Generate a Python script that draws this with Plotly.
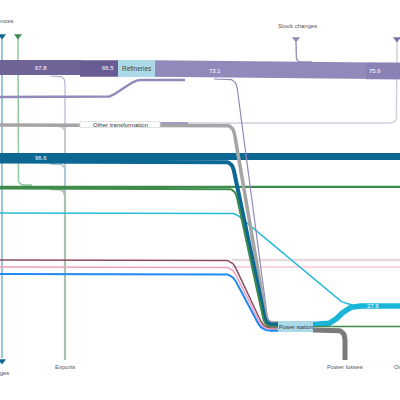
import numpy as np
import plotly.graph_objects as go

# ---------------- data ----------------
band_values = {"crude_in": 67.8, "crude_ref": 66.5, "products": 73.1,
               "oil_final": 75.6, "gas": 96.6, "electricity": 27.9}
node_names = ["Refineries", "Other transformation", "Power station"]
end_labels = ["Statistical differences", "Stock changes", "Stock changes",
              "Exports", "Power losses", "Own use"]

# ---------------- layout / style (pixel canvas 400x400) ----------------
FONT = "Liberation Sans, Arial, sans-serif"
PURPLE_D = "#6f6398"
PURPLE_D2 = "#695c94"
PURPLE_L = "#9189b9"
PURPLE_L2 = "#8a82b4"
BLUE_D = "#0c6792"
GREEN = "#3e8b4c"
GRAY = "#a5a5a5"
CYAN = "#1ab6da"
MAROON = "#8d4b60"
PINK = "#ee9fc0"
BLUE = "#1f8af0"
BOX = "#acd9e8"


def rounded(points, r):
    pts = [np.array(p, float) for p in points]
    xs, ys = [pts[0][0]], [pts[0][1]]
    for i in range(1, len(pts) - 1):
        p0, p1, p2 = pts[i - 1], pts[i], pts[i + 1]
        d1 = np.linalg.norm(p1 - p0)
        d2 = np.linalg.norm(p2 - p1)
        rr = min(r, d1 / 2, d2 / 2)
        a = p1 - (p1 - p0) / d1 * rr
        b = p1 + (p2 - p1) / d2 * rr
        for t in np.linspace(0, 1, 12):
            q = (1 - t) ** 2 * a + 2 * (1 - t) * t * p1 + t ** 2 * b
            xs.append(q[0]); ys.append(q[1])
    xs.append(pts[-1][0]); ys.append(pts[-1][1])
    return xs, ys


# flows: (route, width, color, radius)
flows = [
    # faint continuations
    ([(232, 260), (400, 260)], 2.5, "#e6dade", 6),
    ([(232, 267), (400, 267)], 2, "#fad6e5", 6),
    # exports column
    ([(50, 76), (65, 76), (65, 360)], 1.2, "#b8b1d2", 8),
    ([(50, 126), (65, 126), (65, 360)], 1.5, "#c4c4c4", 8),
    ([(50, 164), (65, 164), (65, 360)], 1.6, "#a9c8d6", 8),
    ([(50, 189), (65, 189), (65, 360)], 2.2, "#a8c2b0", 8),
    # statistical differences / stock changes verticals
    ([(2, 38), (2, 358)], 1.5, "#7ab0cc", 6),
    ([(18, 38), (18, 185), (32, 185)], 1.5, "#93c79c", 8),
    # stock changes top & other transformation outline
    ([(296, 42), (296, 62), (312, 62)], 1.5, "#9d96c4", 6),
    ([(397, 42), (397, 123), (160, 123)], 1.5, "#d2cee2", 8),
    # purple line from left into refinery products
    ([(0, 97), (110, 97), (136, 80), (185, 80)], 2.5, PURPLE_L, 5),
    ([(130, 76.5), (190, 76.5)], 1.2, "#c9c3e0", 4),
    # top oil bands
    ([(0, 67.5), (81, 67.5)], 15, PURPLE_D, 4),
    ([(80, 68.5), (119, 68.5)], 16.5, PURPLE_D2, 4),
    ([(155, 68.5), (181, 68.5), (195, 71), (400, 71)], 16.5, PURPLE_L, 10),
    ([(366, 71), (400, 71)], 16.5, PURPLE_L2, 4),
    # blue gas band
    ([(0, 156.5), (400, 156.5)], 7, BLUE_D, 4),
    # green band
    ([(0, 186.8), (400, 186.8)], 2.2, GREEN, 4),
    # cyan line to electricity
    ([(0, 213), (235, 213), (341, 302), (353, 305)], 1.5, "#2bb9d9", 6),
    # flows into the power station
    ([(214, 79), (236, 79), (268, 322), (279, 322)], 1.2, PURPLE_L, 9),
    ([(0, 125), (233, 125), (267, 323), (279, 323)], 3.5, GRAY, 9),
    ([(160, 123), (188, 123)], 1.5, PURPLE_L, 6),
    ([(0, 161.5), (232, 161.5), (266, 324.5), (279, 324.5)], 4, BLUE_D, 9),
    ([(0, 188.5), (235, 188.5), (265, 326.5), (279, 326.5)], 2, GREEN, 9),
    ([(0, 260), (232, 260), (264, 328), (279, 328)], 1.5, MAROON, 9),
    ([(0, 267), (232, 267), (263, 329.3), (279, 329.3)], 1.5, PINK, 9),
    ([(0, 274), (232, 274), (262, 330.7), (279, 330.7)], 2, BLUE, 9),
    # power station outputs
    ([(313, 324.5), (330, 324.5), (350, 306), (400, 306)], 5.5, CYAN, 10),
    ([(313, 326.5), (400, 326.5)], 1.5, GREEN, 4),
    ([(313, 330), (345, 330), (345, 360)], 5, "#7b7b7b", 10),
]

fig = go.Figure()
for route, w, col, r in flows:
    xs, ys = rounded(route, r)
    fig.add_trace(go.Scatter(x=xs, y=ys, mode="lines",
                             line=dict(color=col, width=w),
                             hoverinfo="skip", showlegend=False))

# end markers
markers = [((2, 36), BLUE_D), ((18, 36), GREEN), ((296, 39), "#8e86bb"),
           ((397, 39), "#7a70a8"), ((2, 361), BLUE_D)]
fig.add_trace(go.Scatter(x=[m[0][0] for m in markers], y=[m[0][1] for m in markers],
                         mode="markers",
                         marker=dict(symbol="triangle-down", size=7,
                                     color=[m[1] for m in markers]),
                         hoverinfo="skip", showlegend=False))

shapes = [
    dict(type="rect", x0=118, x1=155, y0=60, y1=77, fillcolor=BOX, line_width=0, layer="above"),
    dict(type="rect", x0=278, x1=313, y0=321, y1=332, fillcolor=BOX, line_width=0, layer="above"),
    dict(type="rect", x0=80, x1=160, y0=121.5, y1=127.5, fillcolor="white",
         line=dict(color="#dddddd", width=0.8), layer="above"),
]

ann = []
def txt(x, y, s, color="#444", size=6, anchor="center"):
    ann.append(dict(x=x, y=y, text=s, showarrow=False, xanchor=anchor, yanchor="middle",
                    font=dict(family=FONT, size=size, color=color)))

txt(41, 68, f"{band_values['crude_in']:.1f}", "white")
txt(108, 68, f"{band_values['crude_ref']:.1f}", "white")
txt(215, 71, f"{band_values['products']:.1f}", "white")
txt(375, 71, f"{band_values['oil_final']:.1f}", "white")
txt(41, 158, f"{band_values['gas']:.1f}", "white")
txt(373, 306, f"{band_values['electricity']:.1f}", "white")
txt(136.5, 68.5, node_names[0], "#444", 6.5)
txt(120, 124.5, node_names[1], "#333", 6)
txt(295.5, 326.5, node_names[2], "#333", 5.6)
txt(16, 21, end_labels[0], "#555", 6, "right")
txt(297, 26, end_labels[1], "#555", 6)
txt(11, 373, end_labels[2], "#555", 6, "right")
txt(65, 367, end_labels[3], "#555", 6)
txt(345, 367, end_labels[4], "#555", 6)
txt(392, 367, end_labels[5], "#555", 6, "left")

fig.update_layout(
    width=400, height=400, margin=dict(l=0, r=0, t=0, b=0),
    paper_bgcolor="white", plot_bgcolor="white",
    xaxis=dict(range=[0, 400], visible=False, fixedrange=True),
    yaxis=dict(range=[400, 0], visible=False, fixedrange=True),
    shapes=shapes, annotations=ann,
)
fig.write_html("out.html", config={"displayModeBar": False},
               post_script="document.body.style.margin='0';document.body.style.overflow='hidden';")
